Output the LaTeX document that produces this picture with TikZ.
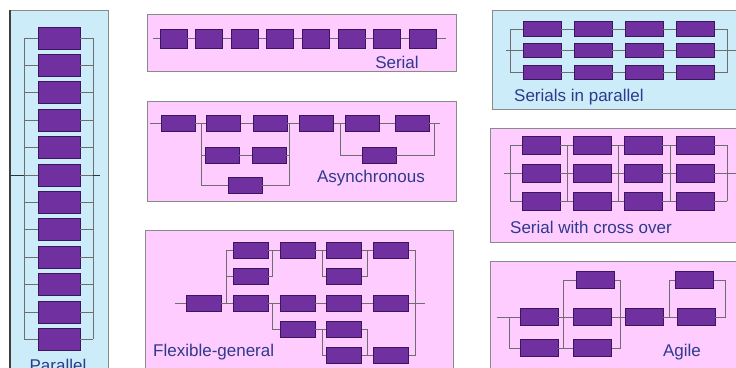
\documentclass[tikz,border=0pt]{standalone}
\usepackage{fontspec}
\setmainfont{Liberation Sans}
\definecolor{boxfill}{HTML}{7030A0}
\definecolor{boxline}{HTML}{3A1560}
\definecolor{pinkbg}{HTML}{FFCCFF}
\definecolor{bluebg}{HTML}{CCECFA}
\definecolor{panelline}{HTML}{8A8A8A}
\definecolor{wirecol}{HTML}{6E6E6E}
\definecolor{labelcol}{HTML}{2E3A8C}
\tikzset{
 box/.style={rectangle, fill=boxfill, draw=boxline, line width=0.9pt, inner sep=0pt},
 pbox/.style={box, minimum width=42pt, minimum height=22pt},
 sbox/.style={box, minimum width=27pt, minimum height=19pt},
 abox/.style={box, minimum width=34pt, minimum height=16pt},
 fbox/.style={box, minimum width=35pt, minimum height=16pt},
 spbox/.style={box, minimum width=38pt, minimum height=14.5pt},
 cbox/.style={box, minimum width=38pt, minimum height=18pt},
 gbox/.style={box, minimum width=38pt, minimum height=17pt},
 wire/.style={draw=wirecol, line width=0.8pt},
 pinkpanel/.style={fill=pinkbg, draw=panelline, line width=1pt},
 bluepanel/.style={fill=bluebg, draw=panelline, line width=1pt},
 lbl/.style={text=labelcol, font=\fontsize{17}{17}\selectfont, inner sep=0pt},
}
\begin{document}
\begin{tikzpicture}[x=1pt,y=-1pt]
\useasboundingbox (0,0) rectangle (736,367);
\clip (0,0) rectangle (736,367);
\fill[white] (0,0) rectangle (736,367);

% ---------------- Parallel ----------------
\draw[bluepanel] (10,10) rectangle (108,380);
\draw[draw=black!75, line width=1.6pt] (10,10) -- (10,380);
\foreach \i in {0,...,11} {
  \node[pbox] (p\i) at (59,{38+27.4*\i}) {};
}
\coordinate (pl) at (24,0);
\coordinate (pr) at (93,0);
\coordinate (pin) at (10,0);
\coordinate (pout) at (100,0);
\foreach \i in {0,...,11} {
  \draw[wire] (pl |- p\i.west) -- (p\i.west);
  \draw[wire] (p\i.east) -- (pr |- p\i.east);
}
\draw[wire] (pl |- p0.west) -- (pl |- p11.west);
\draw[wire] (pr |- p0.east) -- (pr |- p11.east);
\draw[wire, draw=black!80] (pin |- p5.west) -- (pl |- p5.west);
\draw[wire, draw=black!80] (pr |- p5.east) -- (pout |- p5.east);
\node[lbl] (plabel) at (58,365) {Parallel};

% ---------------- Serial ----------------
\draw[pinkpanel] (147,14) rectangle (456,71);
\foreach \i in {0,...,7} {
  \node[sbox] (s\i) at ({173.5+35.6*\i},38.5) {};
}
\coordinate (sin) at (153,38.5);
\coordinate (sout) at (446,38.5);
\draw[wire] (sin) -- (s0.west);
\foreach \i [evaluate=\i as \j using int(\i+1)] in {0,...,6} {
  \draw[wire] (s\i.east) -- (s\j.west);
}
\draw[wire] (s7.east) -- (sout);
\node[lbl] (slabel) at (397,62) {Serial};

% ---------------- Asynchronous ----------------
\draw[pinkpanel] (147,101) rectangle (456,201);
\node[abox] (aA) at (178,123) {};
\node[abox] (aB) at (223.5,123) {};
\node[abox] (aC) at (270,123) {};
\node[abox] (aD) at (316.5,123) {};
\node[abox] (aE) at (362.5,123) {};
\node[abox] (aF) at (412,123) {};
\node[abox] (aG) at (222,155) {};
\node[abox] (aH) at (269,155) {};
\node[abox] (aI) at (379,155.5) {};
\node[abox] (aJ) at (245,185) {};
\coordinate (ain) at (150,123);
\coordinate (aout) at (440,123);
\coordinate (av1) at (201,0);
\coordinate (av2) at (289,0);
\coordinate (av3) at (340,0);
\coordinate (av4) at (434,0);
\draw[wire] (ain) -- (aA.west);
\draw[wire] (aA.east) -- (aB.west);
\draw[wire] (aB.east) -- (aC.west);
\draw[wire] (aC.east) -- (aD.west);
\draw[wire] (aD.east) -- (aE.west);
\draw[wire] (aE.east) -- (aF.west);
\draw[wire] (aF.east) -- (aout);
\draw[wire] (av1 |- aA.east) -- (av1 |- aJ.west) -- (aJ.west);
\draw[wire] (aJ.east) -- (av2 |- aJ.east) -- (av2 |- aC.east);
\draw[wire] (av1 |- aG.west) -- (aG.west);
\draw[wire] (aG.east) -- (aH.west);
\draw[wire] (aH.east) -- (av2 |- aH.east);
\draw[wire] (av3 |- aD.east) -- (av3 |- aI.west) -- (aI.west);
\draw[wire] (aI.east) -- (av4 |- aI.east) -- (av4 |- aF.east);
\node[lbl] (alabel) at (371,178) {Asynchronous};

% ---------------- Flexible-general ----------------
\draw[pinkpanel] (145,230) rectangle (453,380);
\node[fbox] (f13) at (203.5,303) {};
\node[fbox] (f21) at (250.5,250) {};
\node[fbox] (f22) at (250.5,276) {};
\node[fbox] (f23) at (250.5,303) {};
\node[fbox] (f31) at (297.5,250) {};
\node[fbox] (f33) at (297.5,303) {};
\node[fbox] (f34) at (297.5,329) {};
\node[fbox] (f41) at (344,250) {};
\node[fbox] (f42) at (344,276) {};
\node[fbox] (f43) at (344,303) {};
\node[fbox] (f44) at (344,329) {};
\node[fbox] (f45) at (344,355.5) {};
\node[fbox] (f51) at (391,250) {};
\node[fbox] (f53) at (391,303) {};
\node[fbox] (f55) at (391,355.5) {};
\coordinate (fin) at (175,303);
\coordinate (fout) at (425,303);
\coordinate (fv1) at (226,0);
\coordinate (fv2) at (272,0);
\coordinate (fv3) at (322,0);
\coordinate (fv4) at (367,0);
\coordinate (fv5) at (415,0);
\draw[wire] (fin) -- (f13.west);
\draw[wire] (f13.east) -- (fv1 |- f13.east);
\draw[wire] (fv1 |- f21.west) -- (fv1 |- f23.west);
\draw[wire] (fv1 |- f21.west) -- (f21.west);
\draw[wire] (fv1 |- f22.west) -- (f22.west);
\draw[wire] (fv1 |- f23.west) -- (f23.west);
\draw[wire] (f21.east) -- (f31.west);
\draw[wire] (fv2 |- f21.east) -- (fv2 |- f22.east) -- (f22.east);
\draw[wire] (f31.east) -- (f41.west);
\draw[wire] (fv3 |- f31.east) -- (fv3 |- f42.west) -- (f42.west);
\draw[wire] (f41.east) -- (f51.west);
\draw[wire] (fv4 |- f41.east) -- (fv4 |- f42.east) -- (f42.east);
\draw[wire] (f51.east) -- (fv5 |- f51.east) -- (fv5 |- f55.east) -- (f55.east);
\draw[wire] (f23.east) -- (f33.west);
\draw[wire] (f33.east) -- (f43.west);
\draw[wire] (f43.east) -- (f53.west);
\draw[wire] (f53.east) -- (fout);
\draw[wire] (fv2 |- f23.east) -- (fv2 |- f34.west) -- (f34.west);
\draw[wire] (f34.east) -- (f44.west);
\draw[wire] (fv3 |- f44.west) -- (fv3 |- f45.west) -- (f45.west);
\draw[wire] (f44.east) -- (fv4 |- f44.east) -- (fv4 |- f45.east);
\draw[wire] (f45.east) -- (f55.west);
\node[lbl, anchor=west] (flabel) at (153,352) {Flexible-general};

% ---------------- Serials in parallel ----------------
\draw[bluepanel] (492,10) rectangle (745,109);
\foreach \c/\x in {1/542,2/593,3/644,4/695.5} {
  \foreach \r/\y in {1/29,2/50.5,3/72.5} {
    \node[spbox] (q\r\c) at (\x,\y) {};
  }
}
\coordinate (ql) at (510,0);
\coordinate (qr) at (727,0);
\coordinate (qin) at (506,0);
\coordinate (qout) at (736,0);
\foreach \r in {1,2,3} {
  \draw[wire] (ql |- q\r1.west) -- (q\r1.west);
  \draw[wire] (q\r1.east) -- (q\r2.west);
  \draw[wire] (q\r2.east) -- (q\r3.west);
  \draw[wire] (q\r3.east) -- (q\r4.west);
  \draw[wire] (q\r4.east) -- (qr |- q\r4.east);
}
\draw[wire] (ql |- q11.west) -- (ql |- q31.west);
\draw[wire] (qr |- q14.east) -- (qr |- q34.east);
\draw[wire] (qin |- q21.west) -- (ql |- q21.west);
\draw[wire] (qr |- q24.east) -- (qout |- q24.east);
\node[lbl, anchor=west] (qlabel) at (514,97) {Serials in parallel};

% ---------------- Serial with cross over ----------------
\draw[pinkpanel] (490,128) rectangle (745,242);
\foreach \c/\x in {1/541,2/592.5,3/643,4/695} {
  \foreach \r/\y in {1/145,2/173,3/201} {
    \node[cbox] (x\r\c) at (\x,\y) {};
  }
}
\coordinate (xv0) at (510,0);
\coordinate (xv1) at (567,0);
\coordinate (xv2) at (618,0);
\coordinate (xv3) at (670,0);
\coordinate (xv4) at (727,0);
\coordinate (xin) at (504,0);
\coordinate (xout) at (736,0);
\foreach \r in {1,2,3} {
  \draw[wire] (xv0 |- x\r1.west) -- (x\r1.west);
  \draw[wire] (x\r1.east) -- (x\r2.west);
  \draw[wire] (x\r2.east) -- (x\r3.west);
  \draw[wire] (x\r3.east) -- (x\r4.west);
  \draw[wire] (x\r4.east) -- (xv4 |- x\r4.east);
}
\foreach \v in {0,...,4} {
  \draw[wire] (xv\v |- x11.west) -- (xv\v |- x31.west);
}
\draw[wire] (xin |- x21.west) -- (xv0 |- x21.west);
\draw[wire] (xv4 |- x24.east) -- (xout |- x24.east);
\node[lbl, anchor=west] (xlabel) at (510,227) {Serial with cross over};

% ---------------- Agile ----------------
\draw[pinkpanel] (490,261) rectangle (745,380);
\node[gbox] (ga1) at (539,317) {};
\node[gbox] (ga2) at (539,348) {};
\node[gbox] (gb0) at (595.5,280) {};
\node[gbox] (gb1) at (592.5,317) {};
\node[gbox] (gb2) at (592.5,348) {};
\node[gbox] (gc1) at (644,317) {};
\node[gbox] (gd0) at (694.5,280) {};
\node[gbox] (gd1) at (696,317) {};
\coordinate (gin) at (497,317);
\coordinate (gv1) at (509,0);
\coordinate (gv2) at (563,0);
\coordinate (gv3) at (620,0);
\coordinate (gv4) at (669,0);
\coordinate (gv5) at (725,0);
\draw[wire] (gin) -- (ga1.west);
\draw[wire] (gv1 |- ga1.west) -- (gv1 |- ga2.west) -- (ga2.west);
\draw[wire] (ga1.east) -- (gb1.west);
\draw[wire] (ga2.east) -- (gb2.west);
\draw[wire] (gv2 |- gb0.west) -- (gv2 |- gb2.west);
\draw[wire] (gv2 |- gb0.west) -- (gb0.west);
\draw[wire] (gb0.east) -- (gv3 |- gb0.east) -- (gv3 |- gb2.east) -- (gb2.east);
\draw[wire] (gb1.east) -- (gc1.west);
\draw[wire] (gc1.east) -- (gd1.west);
\draw[wire] (gv4 |- gd0.west) -- (gv4 |- gd1.west);
\draw[wire] (gv4 |- gd0.west) -- (gd0.west);
\draw[wire] (gd0.east) -- (gv5 |- gd0.east) -- (gv5 |- gd1.east) -- (gd1.east);
\node[lbl] (glabel) at (682,352) {Agile};
\end{tikzpicture}
\end{document}
